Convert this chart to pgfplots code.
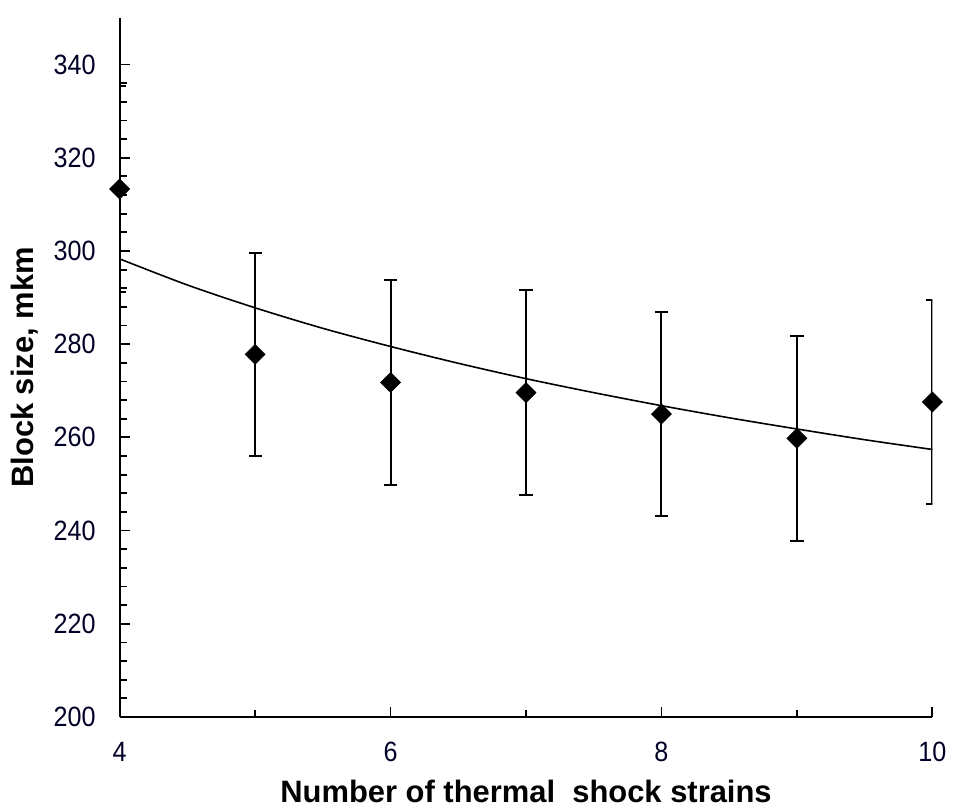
\documentclass[border=0pt]{standalone}
\usepackage{fontspec}
\setmainfont{Liberation Sans}
\newfontfamily\narrowfont[FakeStretch=0.9]{Liberation Sans}
\usepackage{pgfplots}
\pgfplotsset{compat=1.18}

\begin{document}
\begin{tikzpicture}
\begin{axis}[
  name=ax,
  scale only axis,
  width=407.5pt, height=350.5pt,
  xmin=4, xmax=10,
  ymin=200, ymax=350,
  axis x line*=bottom, axis y line*=left,
  axis line style={line width=1pt},
  tick align=inside,
  xtick={4,6,8,10}, minor xtick={5,7,9},
  ytick={200,220,...,340}, minor y tick num=4,
  major tick length=5pt, minor tick length=3.5pt,
  every tick/.style={black, line width=0.9pt},
  tick label style={font=\narrowfont\fontsize{14}{16}\selectfont, text=black!85!blue},
  /pgf/number format/assume math mode=true,
  xticklabel style={yshift=-9pt},
  yticklabel style={xshift=-8.5pt},
  xlabel={Number of thermal\ \ shock strains},
  ylabel={Block size, mkm},
  label style={font=\bfseries\fontsize{15.5}{18}\selectfont},
  xlabel style={yshift=-2.5pt},
  ylabel style={yshift=1pt},
]
% fitted curve
\addplot[black, line width=0.8pt, smooth] coordinates {
  (4,298.3)(4.5,292.7)(5,287.8)(5.5,283.4)(6,279.5)(6.5,275.9)(7,272.6)
  (7.5,269.6)(8,266.8)(8.5,264.2)(9,261.8)(9.5,259.5)(10,257.4)
};
% measurements with error bars
\addplot[black, only marks, mark=square*, mark size=3.5pt,
  mark options={rotate=45, fill=black},
  error bars/.cd, y dir=both, y explicit,
  error bar style={line width=1pt},
  error mark options={rotate=90, black, mark size=3.3pt, line width=1pt}]
  table[x=x, y=y, y error=e] {
x  y     e
4  313.3 22
5  277.8 21.8
6  271.8 22
7  269.6 22
8  265.0 21.8
9  259.8 22
10 267.6 21.8
};
\end{axis}
\path ([xshift=-60pt,yshift=-42pt]ax.south west) rectangle ([xshift=9pt,yshift=9pt]ax.north east);
\end{tikzpicture}
\end{document}
